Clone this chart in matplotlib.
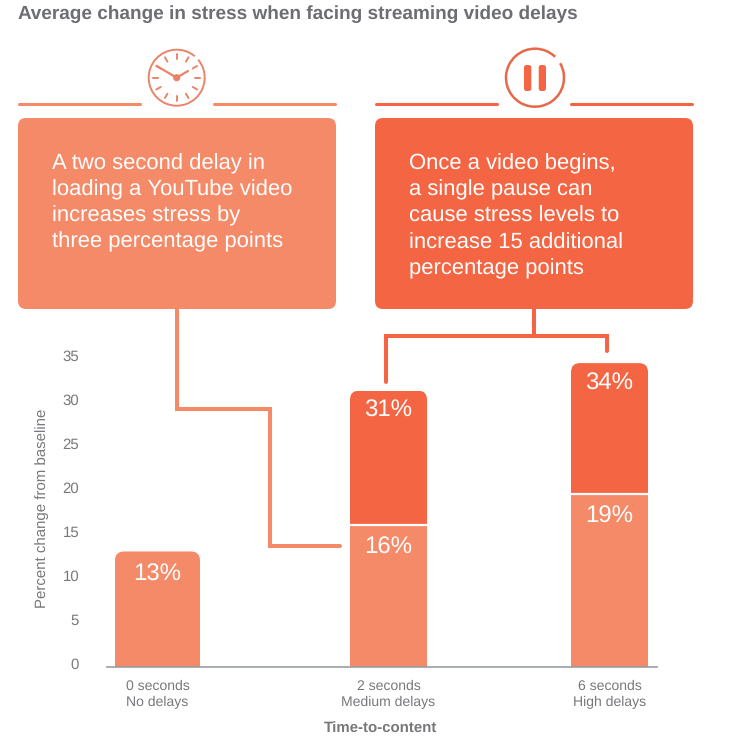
import matplotlib
matplotlib.use("Agg")
import matplotlib.pyplot as plt
import numpy as np
from matplotlib.patches import FancyBboxPatch, Circle, Arc

categories = ["0 seconds\nNo delays", "2 seconds\nMedium delays", "6 seconds\nHigh delays"]
base_values = [13, 16, 19.5]
total_values = [13, 31.1, 34.2]
base_labels = ["13%", "16%", "19%"]
total_labels = [None, "31%", "34%"]
y_ticks = [0, 5, 10, 15, 20, 25, 30, 35]

title = "Average change in stress when facing streaming video delays"
left_text = ["A two second delay in", "loading a YouTube video", "increases stress by", "three percentage points"]
right_text = ["Once a video begins,", "a single pause can", "cause stress levels to", "increase 15 additional", "percentage points"]

LIGHT = "#F58A68"
DARK = "#F46543"
GREY = "#77787B"
W, H = 745, 752
PX_PER_UNIT = 8.9
BASE_Y = 667
BAR_X = [157.5, 388.5, 609.5]
BAR_W = [85, 77, 77]

plt.rcParams["font.family"] = ["Liberation Sans", "DejaVu Sans"]
plt.rcParams["text.hinting"] = "none"
plt.rcParams["text.hinting_factor"] = 1


def rounded_clip(ax, x, w, top):
    # rounded top corners, bottom of the clip sits below the axis
    return FancyBboxPatch((x - w / 2, -5), w, top + 5,
                          boxstyle="round,pad=0,rounding_size=9",
                          mutation_aspect=1 / PX_PER_UNIT, transform=ax.transData)


def main() -> None:
    fig = plt.figure(figsize=(W / 100, H / 100), dpi=100, facecolor="white")
    ax = fig.add_axes([107 / W, 1 - BASE_Y / H, 550 / W, 35 * PX_PER_UNIT / H])
    ax.set_xlim(107, 657)
    ax.set_ylim(0, 35)

    for x, w, base, total in zip(BAR_X, BAR_W, base_values, total_values):
        clip = rounded_clip(ax, x, w, total)
        low = ax.bar(x, base, w, color=LIGHT, zorder=2)[0]
        low.set_clip_path(clip)
        if total > base:
            high = ax.bar(x, total - base, w, bottom=base, color=DARK, zorder=2)[0]
            high.set_clip_path(clip)
            ax.hlines(base, x - w / 2, x + w / 2, color="white", lw=1.6, zorder=3)

    for x, base, label in zip(BAR_X, base_values, base_labels):
        ax.annotate(label, (x, base), xytext=(0, -23), textcoords="offset pixels", color="white",
                    fontsize=17.5, ha="center", va="center", zorder=4)
    for x, total, label in zip(BAR_X, total_values, total_labels):
        if label:
            ax.annotate(label, (x, total), xytext=(0, -20), textcoords="offset pixels", color="white",
                        fontsize=17.5, ha="center", va="center", zorder=4)

    for side in ["top", "right", "left"]:
        ax.spines[side].set_visible(False)
    ax.spines["bottom"].set_color("#9A9DA3")
    ax.spines["bottom"].set_linewidth(1.2)

    # tick labels in the source run a little tighter than the bars and sit above the tick
    ax.set_yticks([(v * 8.8 + 4) / PX_PER_UNIT for v in y_ticks], [str(v) for v in y_ticks])
    ax.set_xticks(BAR_X, categories, linespacing=1.25)
    ax.tick_params(axis="y", length=0, pad=20, labelsize=10.6, labelcolor=GREY)
    ax.tick_params(axis="x", length=0, pad=9.5, labelsize=10.4, labelcolor=GREY)
    fig.text(42 / W, 1 - 508 / H, "Percent change from baseline", fontsize=10.7, color=GREY,
             rotation=90, ha="center", va="center")
    fig.text(380 / W, 1 - 729 / H, "Time-to-content", fontsize=10.6, color=GREY,
             fontweight="bold", ha="center", va="center")

    # everything around the chart is drawn in pixel coordinates
    over = fig.add_axes([0, 0, 1, 1], zorder=5)
    over.set_xlim(0, W)
    over.set_ylim(H, 0)
    over.axis("off")

    over.text(18, 14, title, fontsize=13.35, fontweight="bold", color="#6D6E71", va="center")

    for x0, color in [(18, LIGHT), (375, DARK)]:
        over.add_patch(FancyBboxPatch((x0, 118), 318, 191, boxstyle="round,pad=0,rounding_size=8",
                                      fc=color, ec="none"))
        over.plot([x0 + 1, x0 + 122], [103.5, 103.5], color=color, lw=2.2, solid_capstyle="round")
        over.plot([x0 + 196, x0 + 317], [103.5, 103.5], color=color, lw=2.2, solid_capstyle="round")

    for i, line in enumerate(left_text):
        over.text(52, 164 + i * 26, line, color="white", fontsize=15.8, va="center")
    for i, line in enumerate(right_text):
        over.text(409, 164 + i * 26.2, line, color="white", fontsize=15.8, va="center")

    # connectors
    over.plot([177, 177, 270, 270, 340], [309, 409, 409, 546, 546], color=LIGHT, lw=2.9,
              solid_joinstyle="miter", solid_capstyle="round")
    over.plot([534, 534], [309, 336], color=DARK, lw=2.9)
    over.plot([386, 386, 607, 607], [382, 336, 336, 351], color=DARK, lw=2.9,
              solid_joinstyle="miter", solid_capstyle="round")

    # clock icon
    cx, cy, r = 176.7, 77.7, 28
    icon_light = "#E98468"
    over.add_patch(Arc((cx, cy), 2 * r, 2 * r, theta1=-40, theta2=-50 + 360, ec=icon_light, lw=1.4))
    for a in np.arange(0, 360, 30):
        dx, dy = np.sin(np.radians(a)), -np.cos(np.radians(a))
        over.plot([cx + dx * 18.5, cx + dx * 23.5], [cy + dy * 18.5, cy + dy * 23.5], color=icon_light, lw=1.4,
                  solid_capstyle="round")
    over.plot([156.7, cx, 188], [66, cy, 71], color=icon_light, lw=1.6, solid_capstyle="round")
    over.add_patch(Circle((cx, cy), 3.6, fc=icon_light, ec="none"))

    # pause icon, the ring has a small gap at the upper right
    px, py = 535, 77.7
    icon_dark = "#E8684A"
    over.add_patch(Arc((px, py), 58, 58, theta1=-30, theta2=-46 + 360, ec=icon_dark, lw=1.8))
    for bx in [524, 538.7]:
        over.add_patch(FancyBboxPatch((bx, 65), 7.3, 26, boxstyle="round,pad=0,rounding_size=2.5",
                                      fc=DARK, ec="none"))

    fig.savefig("out.png", dpi=100)


if __name__ == '__main__':
    main()
